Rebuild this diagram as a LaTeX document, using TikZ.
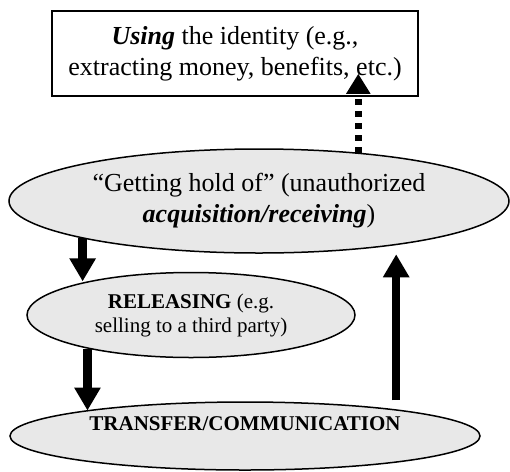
\documentclass[tikz,border=0pt]{standalone}
\usepackage{fontspec}
\setmainfont{Liberation Serif}
\usetikzlibrary{shapes.geometric,arrows.meta}
\definecolor{ovalgray}{RGB}{232,232,232}

\begin{document}
\begin{tikzpicture}[x=1pt,y=-1pt,
  oval/.style={ellipse,draw,line width=1.5pt,fill=ovalgray,inner sep=0pt,align=center},
  fat/.style={line width=8.5pt,-{Triangle[width=25pt,length=23pt]}},
  dotfat/.style={line width=7pt,dash pattern=on 6pt off 6pt,-{Triangle[width=23pt,length=20pt]}},
  big/.style={font=\fontsize{26}{31}\selectfont},
  small/.style={font=\fontsize{21}{24}\selectfont}]

\useasboundingbox (0,0) rectangle (510,471);

% Top box
\node[draw,line width=1.5pt,minimum width=366pt,minimum height=85pt,align=center,big]
  (use) at (235,53.5) {\textbf{\textit{Using}} the identity (e.g.,\\extracting money, benefits, etc.)};

% Ovals
\node[oval,minimum width=500pt,minimum height=104pt,big] (get) at (259,201)
  {“Getting hold of” (unauthorized\\\textbf{\textit{acquisition/receiving}})};
\node[oval,minimum width=328pt,minimum height=85pt,small] (rel) at (191,315)
  {\textbf{RELEASING} (e.g.\\selling to a third party)};
\node[oval,minimum width=470pt,minimum height=68pt,small] (tra) at (245,436)
  {\textbf{TRANSFER/COMMUNICATION}\\\mbox{}};

% Arrows
\draw[dotfat] (get.26.6) -- ([yshift=23pt]use.south -| get.26.6);
\draw[fat] (get.192) -- (get.192 |- rel.162);
\draw[fat] (rel.198) -- (rel.198 |- tra.171);
\draw[fat,shorten <=9pt,shorten >=9pt] (tra.10) -- (tra.10 |- get.342);

\end{tikzpicture}
\end{document}
